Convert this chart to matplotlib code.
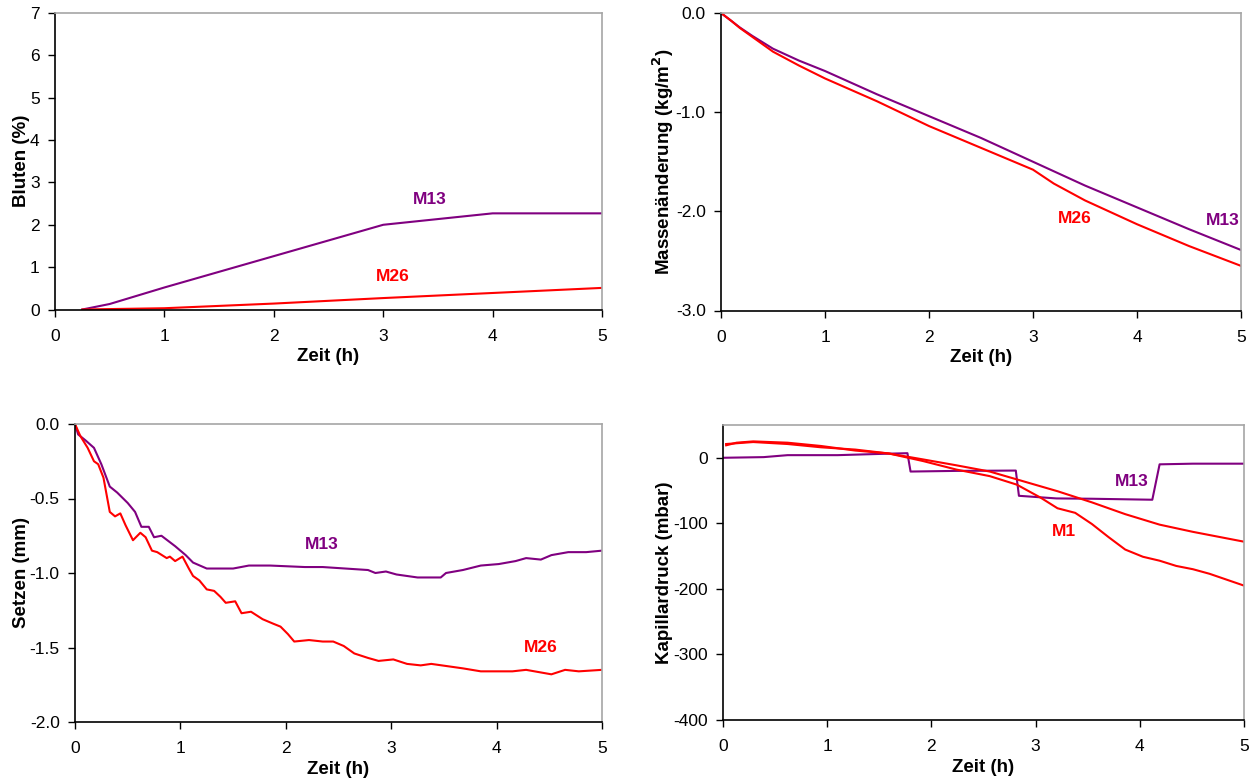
import matplotlib
matplotlib.use("Agg")
import matplotlib.pyplot as plt
import numpy as np

plt.rcParams['font.family'] = ['Liberation Sans', 'DejaVu Sans']
plt.rcParams['axes.unicode_minus'] = False

PURPLE = "#800080"
RED = "#FF0000"

# --- Bluten (%) ---
bl_t_m13 = [0.25, 0.5, 1, 2, 3, 4, 5]
bl_m13 = [0.0, 0.13, 0.52, 1.26, 2.0, 2.27, 2.27]
bl_t_m26 = [0.25, 1, 2, 3, 4, 5]
bl_m26 = [0.0, 0.03, 0.14, 0.27, 0.39, 0.51]

# --- Massenaenderung (kg/m2) ---
ma_t = [0, 0.1, 0.18, 0.3, 0.5, 0.75, 1, 1.5, 2, 2.5, 3, 3.5, 4, 4.5, 5]
ma_m13 = [0, -0.08, -0.145, -0.23, -0.36, -0.48, -0.585, -0.82, -1.04, -1.26,
          -1.50, -1.74, -1.96, -2.18, -2.39]
ma_t26 = [0, 0.1, 0.18, 0.3, 0.5, 0.75, 1, 1.5, 2, 2.5, 3, 3.2, 3.5, 4, 4.5, 5]
ma_m26 = [0, -0.08, -0.15, -0.24, -0.39, -0.53, -0.66, -0.89, -1.14, -1.36, -1.58,
          -1.72, -1.89, -2.13, -2.35, -2.55]

# --- Setzen (mm) ---
se_t_m13 = [0, 0.03, 0.1, 0.18, 0.25, 0.33, 0.4, 0.5, 0.57, 0.63, 0.7, 0.75, 0.82,
            0.95, 1.05, 1.12, 1.25, 1.5, 1.65, 1.85, 2.18, 2.35, 2.78, 2.85, 2.95,
            3.05, 3.25, 3.47, 3.52, 3.68, 3.85, 4.02, 4.18, 4.28, 4.42, 4.52, 4.68,
            4.85, 5.0]
se_m13 = [0, -0.07, -0.11, -0.16, -0.27, -0.42, -0.46, -0.53, -0.59, -0.69, -0.69,
          -0.76, -0.75, -0.82, -0.88, -0.93, -0.97, -0.97, -0.95, -0.95, -0.96,
          -0.96, -0.98, -1.0, -0.99, -1.01, -1.03, -1.03, -1.0, -0.98, -0.95,
          -0.94, -0.92, -0.9, -0.91, -0.88, -0.86, -0.86, -0.85]
se_t_m26 = [0, 0.05, 0.12, 0.18, 0.22, 0.27, 0.33, 0.38, 0.43, 0.48, 0.55, 0.62,
            0.67, 0.73, 0.78, 0.87, 0.9, 0.95, 1.02, 1.08, 1.12, 1.18, 1.25, 1.32,
            1.38, 1.43, 1.52, 1.58, 1.67, 1.78, 1.88, 1.95, 2.02, 2.08, 2.22, 2.35,
            2.45, 2.55, 2.65, 2.78, 2.88, 3.02, 3.15, 3.28, 3.38, 3.68, 3.85, 4.15,
            4.28, 4.52, 4.65, 4.78, 5.0]
se_m26 = [0, -0.08, -0.16, -0.25, -0.27, -0.36, -0.59, -0.62, -0.6, -0.68, -0.78,
          -0.73, -0.76, -0.85, -0.86, -0.9, -0.89, -0.92, -0.89, -0.97, -1.02,
          -1.05, -1.11, -1.12, -1.16, -1.2, -1.19, -1.27, -1.26, -1.31, -1.34,
          -1.36, -1.41, -1.46, -1.45, -1.46, -1.46, -1.49, -1.54, -1.57, -1.59,
          -1.58, -1.61, -1.62, -1.61, -1.64, -1.66, -1.66, -1.65, -1.68, -1.65,
          -1.66, -1.65]

# --- Kapillardruck (mbar) ---
kd_t_m13 = [0, 0.39, 0.62, 1.1, 1.53, 1.77, 1.8, 2.24, 2.81, 2.84, 3.2, 3.54, 4.12,
            4.19, 4.51, 5.0]
kd_m13 = [0, 1, 4, 4, 6, 7, -21, -20, -19.5, -58, -62, -62.5, -64, -10, -9, -9]
kd_t_m1a = [0.03, 0.13, 0.29, 0.62, 0.94, 1.27, 1.59, 1.92, 2.24, 2.56, 2.82, 3.21,
            3.54, 3.86, 4.19, 4.51, 5.0]
kd_m1a = [19, 23, 25, 23, 18, 11, 6.6, -2.5, -11.5, -21, -33, -51, -68, -86, -102,
          -113, -128]
kd_t_m1b = [0.03, 0.29, 0.62, 0.94, 1.27, 1.59, 1.92, 2.24, 2.56, 2.82, 3.05, 3.21,
            3.38, 3.54, 3.7, 3.86, 4.03, 4.19, 4.35, 4.51, 4.67, 5.0]
kd_m1b = [21, 24, 21, 16, 12.5, 6.6, -5, -18, -28, -41, -61, -77, -84, -101, -121,
          -140, -151, -157, -165, -170, -177, -195]

fig = plt.figure(figsize=(12.54, 7.83), dpi=100)
W, H = 1254.0, 783.0


def make_ax(l, r, t, b):
    ax = fig.add_axes([l / W, 1 - b / H, (r - l) / W, (b - t) / H])
    for s in ("top", "right"):
        ax.spines[s].set_color("#A6A6A6")
    for s in ("left", "bottom"):
        ax.spines[s].set_color("black")
    for s in ax.spines.values():
        s.set_linewidth(1.2)
    ax.tick_params(direction="out", length=5, width=1, labelsize=12.5,
                   top=False, right=False, pad=6)
    ax.tick_params(axis="x", pad=9)
    ax.set_xlim(0, 5)
    ax.set_xticks(range(6))
    ax.set_xlabel("Zeit (h)", fontsize=13.5, fontweight="bold", labelpad=3)
    return ax


lw = 1.5
lab = dict(fontsize=12.5, fontweight="bold", ha="center", va="center")
ylab = dict(fontsize=13.5, fontweight="bold", labelpad=0)

ax1 = make_ax(55, 602, 13, 309.5)
ax1.plot(bl_t_m13, bl_m13, color=PURPLE, lw=lw)
ax1.plot(bl_t_m26, bl_m26, color=RED, lw=lw)
ax1.set_ylim(0, 7)
ax1.set_yticks(range(8))
ax1.set_ylabel("Bluten (%)", **ylab)
ax1.text(3.43, 2.59, "M13", color=PURPLE, **lab)
ax1.text(3.09, 0.77, "M26", color=RED, **lab)

ax2 = make_ax(721, 1241, 13, 310.5)
ax2.plot(ma_t, ma_m13, color=PURPLE, lw=lw)
ax2.plot(ma_t26, ma_m26, color=RED, lw=lw)
ax2.set_ylim(-3, 0)
ax2.set_yticks([-3, -2, -1, 0])
ax2.set_yticklabels(["-3.0", "-2.0", "-1.0", "0.0"])
ax2.set_ylabel("Massenänderung (kg/m$^\\mathbf{2}$)", **ylab)
ax2.text(3.40, -2.07, "M26", color=RED, **lab)
ax2.text(4.82, -2.09, "M13", color=PURPLE, **lab)

ax3 = make_ax(75, 602, 424, 722)
ax3.plot(se_t_m13, se_m13, color=PURPLE, lw=lw)
ax3.plot(se_t_m26, se_m26, color=RED, lw=lw)
ax3.set_ylim(-2, 0)
ax3.set_yticks([-2, -1.5, -1, -0.5, 0])
ax3.set_yticklabels(["-2.0", "-1.5", "-1.0", "-0.5", "0.0"])
ax3.set_ylabel("Setzen (mm)", **ylab)
ax3.text(2.34, -0.81, "M13", color=PURPLE, **lab)
ax3.text(4.42, -1.50, "M26", color=RED, **lab)

ax4 = make_ax(723, 1244, 425, 720)
ax4.plot(kd_t_m13, kd_m13, color=PURPLE, lw=lw)
ax4.plot(kd_t_m1a, kd_m1a, color=RED, lw=lw)
ax4.plot(kd_t_m1b, kd_m1b, color=RED, lw=lw)
ax4.set_ylim(-400, 50)
ax4.set_yticks([-400, -300, -200, -100, 0])
ax4.set_ylabel("Kapillardruck (mbar)", **ylab)
ax4.text(3.92, -35.5, "M13", color=PURPLE, **lab)
ax4.text(3.27, -112, "M1", color=RED, **lab)

fig.savefig("out.png", dpi=100)
